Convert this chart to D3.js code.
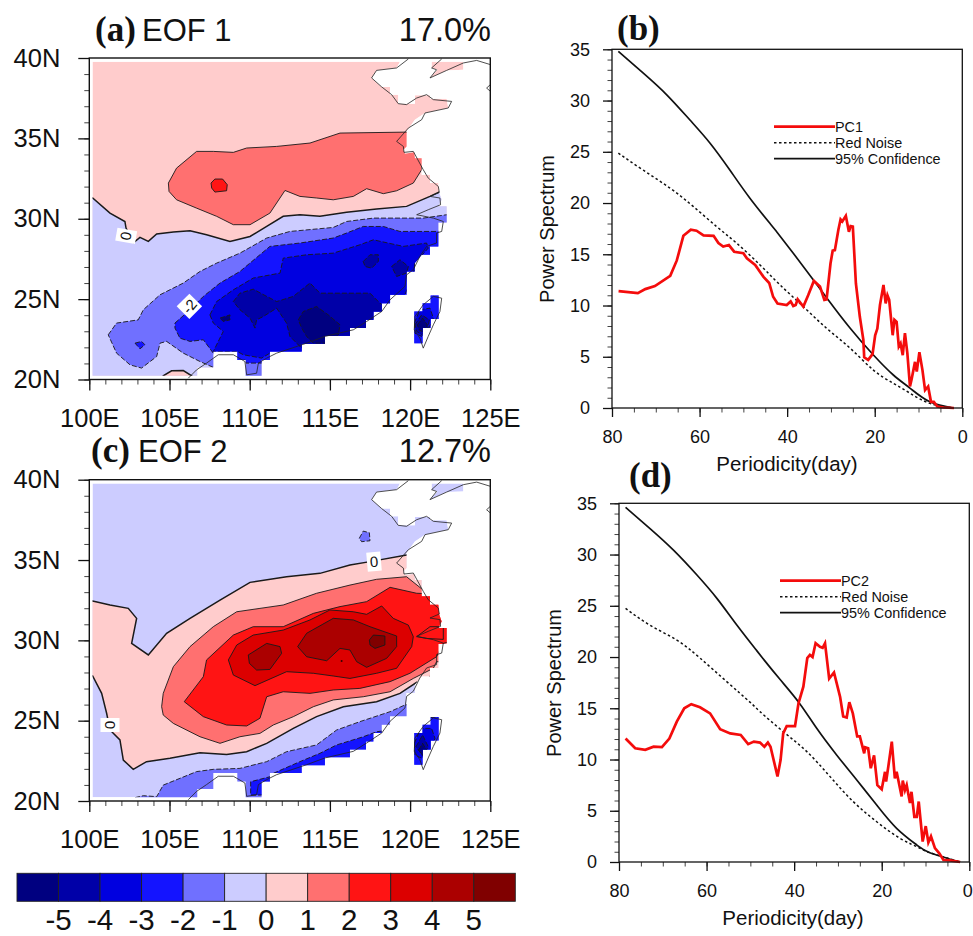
<!DOCTYPE html>
<html>
<head>
<meta charset="utf-8">
<script src="https://d3js.org/d3.v7.min.js"></script>
<style>
    body { margin: 0; background: #fff; }
    text { font-family: "Liberation Sans", sans-serif; fill: #111; }
    .panel-tag { font-family: "Liberation Serif", serif; font-weight: bold; font-size: 35px; }
    .axis path, .axis line { stroke: #111; }
</style>
</head>
<body>
<div id="chart"></div>
<script>
// contour levels and colors
const levels = [-5, -4, -3, -2, -1, 0, 1, 2, 3, 4, 5];
const levelColors = ["#000080", "#0000a8", "#0000e0", "#1414ff", "#7070ff", "#ccccff",
    "#ffcccc", "#ff7070", "#ff1414", "#dc0000", "#ab0000", "#800000"];

const lonTicks = [100, 105, 110, 115, 120, 125];
const latTicks = [20, 25, 30, 35, 40];
const lonMinor = d3.range(100, 126);
const latMinor = d3.range(20, 41);

// model land mask (lon, lat)
const maskMain = [[100.2,39.77],[119.37,39.77],[119.16,39.38],[117.91,39.23],[117.6,38.76],[118.23,38.2],[118.75,38.2],[118.75,37.72],[119.26,37.72],[119.26,37.16],[120.3,37.16],[120.3,37.68],[121.24,37.68],[121.24,37.47],[122.28,37.47],[122.38,36.89],[120.93,36.58],[120.3,36.16],[119.78,35.44],[119.78,34.5],[119.58,34.29],[119.68,34.05],[120.26,34.13],[120.3,33.76],[120.72,33.76],[120.72,32.74],[121.24,32.74],[121.24,32.22],[121.76,32.22],[121.82,31.6],[121.97,31.18],[121.76,30.77],[122.28,30.77],[122.28,29.77],[121.76,29.77],[121.76,28.28],[121.24,28.28],[121.24,27.76],[120.72,27.76],[120.3,27.24],[120.3,26.72],[119.78,26.72],[119.78,25.27],[118.75,25.27],[118.75,24.75],[118.23,24.75],[118.23,24.23],[117.71,24.23],[117.71,23.71],[117.25,23.71],[117.25,23.2],[116.25,23.2],[116.25,22.72],[114.69,22.72],[114.69,22.22],[113.24,22.22],[113.24,21.74],[111.26,21.74],[111.26,21.22],[110.74,21.22],[110.74,20.23],[109.75,20.23],[109.75,21.22],[109.23,21.22],[109.23,21.74],[107.73,21.74],[107.73,20.75],[106.73,20.75],[106.73,20.23],[100.2,20.23]];
const maskLiaodong = [[121.34,39.77],[123.32,39.77],[123.32,39.27],[122.28,39.23],[121.24,38.76],[121.7,39.27],[121.34,39.38]];
const maskTaiwan = [[120.26,24.23],[120.78,24.23],[120.78,24.75],[121.28,24.75],[121.28,25.23],[121.78,25.23],[121.78,23.76],[121.28,23.76],[121.28,23.2],[120.78,23.2],[120.78,22.26],[120.26,22.26]];

// coastline (lon, lat)
const coastMain = [[119.89,39.94],[119.16,39.38],[117.91,39.23],[117.6,38.76],[118.23,38.2],[118.85,37.72],[119.26,37.16],[119.78,37.1],[120.41,37.51],[121.03,37.72],[121.45,37.41],[122.59,37.3],[122.38,36.89],[120.93,36.58],[120.72,36.16],[119.89,35.64],[119.16,34.81],[119.58,34.5],[119.62,34.13],[120.2,34.19],[120.82,33.05],[121.13,32.53],[121.76,32.01],[121.82,31.64],[121.24,31.39],[121.86,31.29],[121.9,30.87],[121.13,30.56],[120.41,30.25],[121.45,30.04],[122.07,29.83],[121.97,29.21],[121.65,29.11],[121.65,28.49],[121.03,28.28],[120.61,27.66],[120.2,26.83],[119.78,26.51],[119.68,25.79],[118.75,24.96],[118.23,24.23],[117.29,23.61],[116.46,23.09],[114.69,22.68],[113.55,22.26],[111.68,21.64],[111.06,21.33],[110.54,21.02],[110.43,20.39],[109.81,20.29],[109.7,21.12],[108.98,21.54],[108.04,21.54],[107.31,21.02],[106.69,20.6],[106.17,20.08]];
const coastLiaodong = [[121.97,39.94],[121.34,39.38],[121.65,39.27],[121.24,38.76],[122.28,39.23],[123.32,39.69],[124.15,39.85],[125,39.59]];
const coastKorea = [[125,38.34],[124.77,38.13],[125,37.93]];
const coastTaiwan = [[121.45,25.17],[121.97,25.06],[121.86,24.23],[121.45,23.4],[121.13,22.68],[120.82,21.95],[120.61,22.57],[120.26,23.09],[120.3,23.92],[120.82,24.65],[121.45,25.17]];

// EOF 1 filled contours
const e1Zero = [[100,31.29],[100.21,31.29],[101.29,30.35],[102.22,29.83],[102.29,29.42],[102.78,28.53],[103.16,28.84],[103.68,28.59],[104.2,29.05],[105.24,29.17],[106.28,29.25],[107.31,29],[108.77,28.59],[110.02,28.9],[111.06,29.52],[112.09,30.15],[113.13,30.25],[114.38,30.15],[116.04,30.41],[117.91,30.6],[119.78,30.77],[121.24,31.39],[121.82,31.66],[123.5,31.7],[123.5,19.9],[100,19.9]];
const e1PinkPatch = [[104.5,19.9],[104.61,20.23],[105.13,20.54],[105.86,20.56],[106.38,20.23],[106.5,19.9]];
const e1Neg1 = [[101.18,22.78],[101.7,23.51],[103.05,23.71],[103.37,24.34],[104.41,25.27],[105.86,26],[106.9,26.72],[107.94,27.24],[109.39,27.86],[111.06,28.8],[112.51,29.21],[115.21,29.46],[116.04,29.83],[117.71,30.04],[119.37,30.04],[120.82,30.04],[122.28,30.25],[123.5,30.35],[123.5,19.9],[108.98,19.9],[107.83,20.71],[106.9,21.12],[105.86,21.64],[104.82,22.37],[104.41,22.26],[104.2,21.43],[103.26,20.71],[102.54,20.91],[101.7,21.64]];
const e1Neg2 = [[105.34,23.51],[106.28,24.34],[107.11,25.17],[108.15,26],[109.39,26.72],[111.26,28.28],[113.13,28.49],[115.21,28.8],[116.04,29.11],[117.08,29.52],[118.33,29.52],[119.37,29.21],[121.65,29.21],[123.5,29.31],[123.5,19.9],[115.21,19.9],[110.74,21.02],[109.75,21.02],[109.75,21.22],[108.98,21.12],[107.94,21.33],[107.73,21.64],[107.11,22.47],[106.28,22.37],[105.65,22.57],[105.34,23.2]];
const e1Neg2b = [[102.85,22.26],[103.26,22.37],[103.47,22.16],[103.16,21.91]];
const e1Neg3 = [[107.52,24.02],[107.94,24.85],[108.98,25.58],[110.22,26.31],[111.89,26.62],[112.09,27.55],[113.55,27.76],[115.21,27.86],[116.87,28.38],[117.71,28.69],[119.58,28.28],[121.03,28.49],[121.13,28.17],[120.3,27.24],[120.2,26.41],[119.89,25.79],[119.37,24.54],[117.91,23.71],[116.25,22.05],[114.17,21.22],[112.09,21.22],[111.26,21.64],[110.74,21.33],[109.6,21.54],[109.23,21.74],[107.73,21.74],[108.35,22.99],[107.73,23.51]];
const e1Neg4 = [[108.98,24.85],[109.39,25.37],[110.22,25.62],[111.06,25.17],[111.68,24.85],[112.72,25.17],[113.76,26],[114.38,25.37],[116.25,25.37],[117.5,25.37],[118.12,24.75],[118.54,24.44],[117.71,23.4],[116.25,22.26],[114.17,21.64],[113.24,21.95],[112.51,22.68],[112.3,23.51],[111.68,24.44],[110.85,23.92],[110.43,23.71],[110.33,23.2],[110.02,23.82],[109.39,24.34]];
const e1Neg4b = [[117.08,27.34],[117.5,27.76],[118.02,27.76],[118.02,27.34],[117.6,26.93],[117.19,27.03]];
const e1Neg4c = [[118.85,27.03],[119.37,27.45],[119.89,27.03],[119.78,26.62],[119.16,26.41]];
const e1Neg5 = [[113.03,23.71],[113.34,24.23],[114.17,24.54],[114.9,24.02],[115.63,23.4],[115.53,22.78],[114.69,22.26],[113.97,22.26],[113.55,22.68],[113.24,23.2]];
const e1Neg5b = [[108.15,23.82],[108.77,24.02],[108.77,23.71],[108.35,23.61]];
const e1Pos1 = [[104.93,32.22],[105.44,33.15],[106.69,34.19],[107.73,34.19],[108.98,34.13],[109.81,34.4],[111.68,34.5],[113.76,34.71],[115.63,35.33],[119.78,35.39],[121.45,35.33],[121.45,33.26],[120.72,33.26],[120.72,33.05],[120.2,32.22],[119.16,31.74],[118.33,31.56],[117.29,31.87],[116.46,31.39],[115.21,31.18],[114.17,31.29],[113.13,31.39],[112.2,31.76],[111.26,30.35],[110.02,29.63],[108.98,29.63],[107.94,30.15],[106.69,30.66],[105.44,31.18],[104.97,31.7]];
const e1Pos2 = [[107.59,32.22],[107.83,32.47],[108.31,32.47],[108.6,32.12],[108.56,31.74],[107.83,31.66],[107.63,31.91]];
const e1TwA = [[120.26,23.51],[120.61,24.34],[121.24,24.44],[121.45,23.82],[121.13,23.09],[120.72,22.68],[120.3,22.88]];
const e1TwB = [[120.3,23.4],[120.72,24.02],[121.2,23.71],[121.09,23.09],[120.72,22.78],[120.41,22.99]];
const e1TwC = [[120.45,23.4],[120.78,23.82],[121.07,23.4],[120.93,22.88],[120.57,23.09]];

// EOF 2 filled contours
const e2Zero = [[100,32.45],[100.21,32.45],[101.29,32.2],[102.43,31.99],[102.95,31.37],[102.64,29.81],[103.68,29.09],[104.82,30.44],[106.28,31.37],[108.15,32.51],[110.02,33.61],[112.3,33.96],[114.38,34.17],[116.25,34.69],[117.5,34.9],[119.78,35.31],[123.5,35.31],[123.5,27.12],[120.41,27.39],[119.37,26.7],[117.91,26.18],[115.84,25.87],[114.17,25.25],[112.72,24.52],[111.06,23.59],[109.81,23.07],[108.56,22.9],[106.9,23.01],[105.03,22.66],[103.57,22.45],[102.74,21.97],[102.12,22.55],[101.91,23.8],[101.29,24.42],[101.08,25.46],[100.77,26.7],[100.21,27.78],[100,27.78]];
const e2Pos1 = [[104.51,25.87],[104.61,26.7],[105.24,28.36],[106.28,29.61],[107.73,30.85],[109.19,31.78],[110.64,31.99],[112.09,32.2],[114.17,32.93],[116.25,33.44],[117.91,33.8],[119.78,33.96],[120.82,33.13],[123.5,33.13],[123.5,28.57],[121.65,28.67],[121.45,28.26],[120.2,27.63],[118.75,26.8],[117.08,26.49],[115.21,26.29],[113.97,25.87],[112.72,25.25],[111.47,24.73],[110.64,24.21],[109.39,24],[108.15,23.59],[106.9,24],[105.24,24.83],[104.61,25.35]];
const e2Pos2 = [[105.92,26.18],[107.11,27.74],[107.31,28.78],[108.98,30.33],[110.22,30.85],[112.09,30.85],[113.97,31.68],[115.63,32.1],[117.29,32.41],[118.75,33.3],[120.41,32.93],[123.5,32.82],[123.5,30.23],[122.07,29.81],[121.65,28.98],[119.99,27.95],[118.75,27.43],[116.87,27.01],[115.21,26.91],[113.76,26.7],[112.09,26.8],[111.06,26.49],[110.64,25.15],[109.81,24.67],[108.56,24.73],[107.11,25.25]];
const e2Pos2b = [[120.41,30.23],[121.24,30.85],[122.07,30.85],[122.07,30.06],[121.03,30.12]];
const e2Pos3 = [[108.67,28.78],[109.19,29.71],[110.22,30.33],[112.09,30.64],[113.76,31.27],[115,31.89],[116.46,31.78],[117.29,31.62],[118.23,32.14],[118.95,31.37],[119.89,30.95],[120.2,30.23],[120.1,29.61],[119.16,28.26],[117.91,27.95],[116.25,27.63],[115.21,27.78],[113.97,27.95],[112.3,28.05],[110.33,27.18],[108.98,27.84]];
const e2Pos4 = [[109.91,29.09],[111.06,29.81],[111.89,29.61],[111.99,29.19],[111.26,28.19],[110.43,28.15],[109.98,28.57]];
const e2Pos4b = [[112.99,29.61],[113.55,30.44],[115.21,31.37],[116.46,31.27],[117.5,30.85],[119.16,30.27],[119.16,29.61],[118.54,28.88],[117.29,28.32],[116.67,28.67],[116.25,29.4],[115.63,29.5],[114.8,28.73],[113.55,28.98]];
const e2Pos5 = [[117.46,30.02],[117.71,30.33],[118.43,30.27],[118.43,29.71],[117.81,29.5],[117.5,29.71]];
const e2Neg1 = [[102.85,20.21],[103.37,20.33],[104.2,20.27],[104.61,20.99],[106.69,21.83],[107.73,21.97],[109.39,22.03],[111.06,22.45],[112.3,23.07],[114.17,23.49],[115.42,24.42],[116.87,24.94],[118.75,25.56],[119.68,25.98],[123.5,26.49],[123.5,19.9],[102.85,19.9]];
const e2Neg1b = [[116.83,36.35],[117.08,36.8],[117.46,36.7],[117.5,36.2],[116.98,36.14]];
const e2Neg2 = [[111.47,21.72],[113.13,22.45],[114.38,22.97],[115.42,23.49],[117.08,24],[117.91,24.31],[118.75,24.42],[119.99,25.04],[123.5,25.46],[123.5,19.9],[115.21,19.9],[110.74,20.37],[110.06,20.37],[110.06,21.2],[111.26,21.51]];
const e2TwA = [[120.26,23.59],[120.66,24.52],[121.34,24.52],[121.55,23.9],[121.24,23.07],[120.72,22.66],[120.3,22.86]];
const e2TwB = [[120.37,23.38],[120.78,24.11],[121.13,23.38],[120.82,22.76]];
const e2TwC = [[120.53,23.17],[120.78,23.59],[121.03,23.17],[120.78,22.86]];

// [mid value of the band, ring]
const eof1Layers = [[-0.5, e1Zero], [0.5, e1PinkPatch], [-1.5, e1Neg1], [-2.5, e1Neg2], [-2.5, e1Neg2b],
    [-3.5, e1Neg3], [-4.5, e1Neg4], [-4.5, e1Neg4b], [-4.5, e1Neg4c], [-5.5, e1Neg5], [-5.5, e1Neg5b],
    [1.5, e1Pos1], [2.5, e1Pos2], [-3.5, e1TwA], [-4.5, e1TwB], [-5.5, e1TwC]];
const eof2Layers = [[0.5, e2Zero], [1.5, e2Pos1], [2.5, e2Pos2], [2.5, e2Pos2b], [3.5, e2Pos3], [4.5, e2Pos4],
    [4.5, e2Pos4b], [5.5, e2Pos5], [-1.5, e2Neg1], [-1.5, e2Neg1b], [-2.5, e2Neg2],
    [-3.5, e2TwA], [-4.5, e2TwB], [-5.5, e2TwC]];
const eof2Dots = [[115.73, 28.71], [121.24, 27.74]];

// power spectra [period, power]
const pc1 = [[78.5,11.4],[74.1,11.2],[72.4,11.6],[70.2,11.9],[66.7,12.9],[65.2,14.4],[63.7,16.8],[62,17.4],[60.7,17.3],[59.1,16.85],[56.8,16.8],[55.7,16.1],[54.6,15.75],[53.3,15.9],[52.1,15.25],[50,15.1],[49.2,14.6],[47.3,13.95],[45.4,12.8],[44.1,12.2],[43.2,10.85],[42.2,10.2],[40.1,10.05],[39.2,10.4],[38.6,9.95],[38.05,10.05],[37.6,10.6],[36.3,9.9],[35.2,11],[33.9,12.4],[32.5,11.85],[31.5,10.55],[31,10.6],[30.1,14.1],[29.6,15.35],[29.1,15.4],[28.3,17.4],[27.8,18.4],[27.4,18.2],[26.6,18.75],[25.9,17.2],[25.5,17.75],[25,17.7],[24.3,12.15],[23.4,8.9],[22.6,6.65],[22.4,4.95],[21.5,4.7],[20.5,5.25],[19.9,7.1],[19.4,7.75],[18.8,10.05],[18,12],[17.5,10.2],[17.1,11],[16.7,10.55],[15.9,7.1],[15.5,8.6],[15,8.4],[14.5,6],[14.1,6.3],[13.6,5.15],[13.1,7.3],[12.55,5.35],[11.95,2.1],[11.6,2.75],[10.8,4.5],[10.4,3.55],[9.8,5.45],[9.1,3.7],[8.5,1.75],[7.8,2.1],[7.15,0.6],[6.5,0.6],[5.7,0.15],[4.3,0.05],[1.9,0]];
const conf1 = [[78.55,34.8],[72.85,32.67],[67.5,30.56],[62.2,28.1],[57.6,25.84],[53.05,23.2],[48.5,20.47],[43.9,18],[42.4,17.2],[38.6,15.1],[34,12.5],[30.6,10.54],[25.6,7.78],[20.3,5.17],[15.75,3.22],[11.9,1.92],[7.4,0.6],[1.9,0]];
const noise1 = [[78.55,24.87],[72.85,23.2],[66.75,21.45],[61.4,19.65],[56.1,17.7],[51.5,16.07],[46.2,13.96],[41.6,12],[36.3,9.89],[31,7.78],[25.6,5.83],[20.3,3.7],[15.75,2.41],[11.9,1.43],[7.4,0.45],[1.9,0]];

const pc2 = [[78.5,12.05],[76.3,11.1],[74,10.95],[72.1,11.25],[70.2,11.2],[68.5,12.05],[66.8,13.7],[65.1,15],[63.5,15.4],[61.5,15.1],[59.2,14.5],[56.9,12.95],[54.6,12.55],[52.2,12.4],[50.5,11.5],[49.2,11.75],[47.8,11.65],[46.8,11.25],[46,11.65],[45.4,11.25],[43.8,8.35],[43.1,9.95],[42.5,12.55],[41.7,13.25],[39.8,13.25],[39,15.5],[37.9,17.1],[37,19.9],[36.4,20.2],[35.8,20],[35.1,21.35],[34.1,21],[33.5,20.9],[32.95,21.35],[32,17.9],[30.9,18.5],[29.5,16.1],[28.8,14.2],[28,14.1],[27.4,15.6],[26.6,14.5],[25.6,12.25],[25,12.25],[24,10.6],[23.8,11.2],[23.1,11.1],[22.5,9.15],[21.75,10.4],[21,7.5],[20,7.1],[19.25,8.8],[19,7.85],[18.5,9.3],[17.7,11.75],[17,8.15],[16.6,8.8],[15.45,6.4],[15.2,7.95],[14.7,7],[14.3,7.5],[13.55,5.75],[13.2,6.85],[12.55,4.4],[12,4.4],[11.55,5.9],[10.65,2],[9.95,3.5],[9.35,1.9],[8.75,2.5],[7.85,1.35],[6.85,0.85],[5.9,0.2],[4.4,0.15],[2.1,0]];
const conf2 = [[78.5,34.6],[72.85,32.5],[67.5,30.4],[62.2,28],[57.6,25.7],[53.05,23.1],[48.5,20.6],[46.65,19.6],[43.2,17.8],[38.8,15.5],[34.85,13.05],[30.3,10.45],[25.7,8],[21.15,5.56],[16.6,3.29],[12,1.66],[9,0.91],[2.1,0]];
const noise2 = [[78.5,24.75],[72.9,23.1],[66.8,21.65],[61.5,19.9],[55.4,17.6],[50.1,15.6],[47.8,14.67],[42.5,12.72],[37.1,10.77],[31.8,8.33],[26.5,5.89],[21.15,3.93],[15.8,2.31],[11.25,1.34],[9,0.91],[2.1,0]];

const periodTicks = [80, 60, 40, 20, 0];
const powerTicks = [0, 5, 10, 15, 20, 25, 30, 35];
const periodMinor = d3.range(0, 81, 5);
const powerMinor = d3.range(0, 36);

const svg = d3.select("#chart").append("svg")
    .attr("width", 973)
    .attr("height", 936);

const color = d3.scaleThreshold().domain(levels).range(levelColors);

function drawMap(id, top, bottom, baseValue, layers, dots, labels) {
    let x = d3.scaleLinear().domain([100, 125]).range([89.3, 490.3]);
    let y = d3.scaleLinear().domain([20, 40]).range([bottom, top]);
    let line = d3.line().x(d => x(d[0])).y(d => y(d[1]));
    let ring = d => line(d) + "Z";
    let maskPath = ring(maskMain) + ring(maskLiaodong) + ring(maskTaiwan);

    svg.append("clipPath").attr("id", id + "-land").append("path").attr("d", maskPath);
    svg.append("clipPath").attr("id", id + "-frame").append("rect")
        .attr("x", x(100)).attr("y", top)
        .attr("width", x(125) - x(100)).attr("height", bottom - top);

    let g = svg.append("g").attr("clip-path", "url(#" + id + "-land)");
    g.append("path").attr("d", maskPath).attr("fill", color(baseValue));

    layers.forEach(l => {
        g.append("path")
            .attr("d", ring(l[1]))
            .attr("fill", color(l[0]))
            .attr("stroke", "#1a1a1a")
            .attr("stroke-width", Math.abs(l[0]) === 0.5 ? 1.5 : 0.9)
            .attr("stroke-dasharray", l[0] < -0.5 ? "5,2" : null);
    });

    g.selectAll(".dot").data(dots).enter().append("circle")
        .attr("cx", d => x(d[0])).attr("cy", d => y(d[1]))
        .attr("r", 1).attr("fill", "#300");

    // coast on top of everything
    let coast = svg.append("g").attr("clip-path", "url(#" + id + "-frame)");
    [coastMain, coastLiaodong, coastKorea, coastTaiwan].forEach(c => {
        coast.append("path").attr("d", line(c))
            .attr("fill", "none").attr("stroke", "#222").attr("stroke-width", 0.8);
    });

    // contour labels: lon, lat, text, text angle, box width, box height, box angle
    labels.forEach(l => {
        let lg = svg.append("g").attr("transform", "translate(" + x(l[0]) + "," + y(l[1]) + ")");
        lg.append("rect")
            .attr("x", -l[4] / 2).attr("y", -l[5] / 2)
            .attr("width", l[4]).attr("height", l[5])
            .attr("transform", "rotate(" + l[6] + ")")
            .attr("fill", "#fff");
        lg.append("text")
            .attr("transform", "rotate(" + l[3] + ")")
            .attr("text-anchor", "middle").attr("dy", "0.36em")
            .attr("font-size", 15)
            .text(l[2]);
    });

    // frame and ticks
    svg.append("rect")
        .attr("x", x(100)).attr("y", top)
        .attr("width", x(125) - x(100)).attr("height", bottom - top)
        .attr("fill", "none").attr("stroke", "#111").attr("stroke-width", 1.4);

    let addAxis = (axis, tx, ty, width) => {
        let a = svg.append("g").attr("class", "axis")
            .attr("transform", "translate(" + tx + "," + ty + ")").call(axis);
        a.select(".domain").remove();
        a.selectAll("line").attr("stroke-width", width);
        return a;
    };
    addAxis(d3.axisLeft(y).tickValues(latMinor).tickSize(5).tickFormat(""), x(100), 0, 0.8);
    addAxis(d3.axisBottom(x).tickValues(lonMinor).tickSize(5).tickFormat(""), 0, bottom, 0.8);
    addAxis(d3.axisLeft(y).tickValues(latTicks).tickSize(11).tickPadding(18).tickFormat(d => d + "N"), x(100), 0, 1.3)
        .selectAll("text").attr("font-size", 25.5);
    addAxis(d3.axisBottom(x).tickValues(lonTicks).tickSize(11).tickPadding(18).tickFormat(d => d + "E"), 0, bottom, 1.3)
        .selectAll("text").attr("font-size", 25.5);
}

function drawSpectrum(left, right, top, bottom, series, confidence, noise, name, legendX, legendY, xTitle, yTitle) {
    let x = d3.scaleLinear().domain([80, 0]).range([left, right]);
    let y = d3.scaleLinear().domain([0, 35]).range([bottom, top]);
    let line = d3.line().x(d => x(d[0])).y(d => y(d[1]));

    svg.append("path").attr("d", line.curve(d3.curveNatural)(noise))
        .attr("fill", "none").attr("stroke", "#111").attr("stroke-width", 1.5).attr("stroke-dasharray", "2.5,2.5");
    svg.append("path").attr("d", line.curve(d3.curveNatural)(confidence))
        .attr("fill", "none").attr("stroke", "#111").attr("stroke-width", 1.7);
    svg.append("path").attr("d", line.curve(d3.curveLinear)(series))
        .attr("fill", "none").attr("stroke", "#f40c0c").attr("stroke-width", 2.7);

    svg.append("rect")
        .attr("x", left).attr("y", top)
        .attr("width", right - left).attr("height", bottom - top)
        .attr("fill", "none").attr("stroke", "#111").attr("stroke-width", 1.3);

    let addAxis = (axis, tx, ty, width) => {
        let a = svg.append("g").attr("class", "axis")
            .attr("transform", "translate(" + tx + "," + ty + ")").call(axis);
        a.select(".domain").remove();
        a.selectAll("line").attr("stroke-width", width);
        return a;
    };
    addAxis(d3.axisLeft(y).tickValues(powerMinor).tickSize(4.5).tickFormat(""), left, 0, 0.8);
    addAxis(d3.axisBottom(x).tickValues(periodMinor).tickSize(4.5).tickFormat(""), 0, bottom, 0.8);
    addAxis(d3.axisLeft(y).tickValues(powerTicks).tickSize(9).tickPadding(13), left, 0, 1.3)
        .selectAll("text").attr("font-size", 18);
    addAxis(d3.axisBottom(x).tickValues(periodTicks).tickSize(9).tickPadding(13), 0, bottom, 1.3)
        .selectAll("text").attr("font-size", 18)
        // keep the last label inside the window
        .filter(d => d === 0 && x(d) > 965).attr("dx", -2);

    svg.append("text").attr("x", xTitle[0]).attr("y", xTitle[1])
        .attr("text-anchor", "middle").attr("font-size", 20.5).text("Periodicity(day)");
    svg.append("text")
        .attr("transform", "translate(" + yTitle[0] + "," + yTitle[1] + ") rotate(-90)")
        .attr("text-anchor", "middle").attr("font-size", 20).text("Power Spectrum");

    // legend
    let rows = [
        {label: name, color: "#f40c0c", width: 2.7, dash: null},
        {label: "Red Noise", color: "#111", width: 1.5, dash: "2.5,2.5"},
        {label: "95% Confidence", color: "#111", width: 1.7, dash: null}
    ];
    rows.forEach((r, i) => {
        let ly = legendY + i * 16;
        svg.append("line")
            .attr("x1", legendX).attr("x2", legendX + 61)
            .attr("y1", ly).attr("y2", ly)
            .attr("stroke", r.color).attr("stroke-width", r.width).attr("stroke-dasharray", r.dash);
        svg.append("text")
            .attr("x", legendX + 61).attr("y", ly + 5)
            .attr("font-size", 14.4).text(r.label);
    });
}

drawMap("a", 58, 379.5, 0.5, eof1Layers, [], [
    [102.3, 28.93, "0", 100, 20, 13, 10],
    [106.24, 24.55, "-2", -50, 18, 18, 45]
]);
drawMap("c", 479.7, 801, -0.5, eof2Layers, eof2Dots, [
    [117.75, 34.9, "0", -4, 14, 19, -5],
    [101.29, 24.73, "0", 90, 19, 14, 0]
]);

drawSpectrum(612, 962.3, 49.3, 408, pc1, conf1, noise1, "PC1", 774, 126.7, [787, 471], [554, 229]);
drawSpectrum(619, 969.3, 503.3, 862, pc2, conf2, noise2, "PC2", 780, 580.7, [793, 925], [561, 683]);

// panel titles
const tags = [["(a)", 95, 41], ["(b)", 617, 40], ["(c)", 91, 462], ["(d)", 629, 487]];
tags.forEach(t => {
    svg.append("text").attr("class", "panel-tag").attr("x", t[1]).attr("y", t[2]).text(t[0]);
});
const mapTitles = [["EOF 1", "17.0%", 41, 142], ["EOF 2", "12.7%", 462, 138]];
mapTitles.forEach(t => {
    svg.append("text").attr("x", t[3]).attr("y", t[2]).attr("font-size", 31).text(t[0]);
    svg.append("text").attr("x", 491).attr("y", t[2]).attr("text-anchor", "end").attr("font-size", 32.5).text(t[1]);
});

// colorbar
const barX = d3.scaleLinear().domain([-6, 6]).range([17, 515.3]);
const barBands = d3.range(-6, 6);
svg.selectAll(".cbar").data(barBands).enter().append("rect")
    .attr("class", "cbar")
    .attr("x", d => barX(d)).attr("y", 873.3)
    .attr("width", d => barX(d + 1) - barX(d)).attr("height", 28)
    .attr("fill", d => color(d + 0.5))
    .attr("stroke", "#222").attr("stroke-width", 0.9);
svg.selectAll(".cbar-label").data(levels).enter().append("text")
    .attr("class", "cbar-label")
    .attr("x", d => barX(d)).attr("y", 929.7)
    .attr("text-anchor", "middle").attr("font-size", 29.5)
    .text(d => d);
</script>
</body>
</html>
